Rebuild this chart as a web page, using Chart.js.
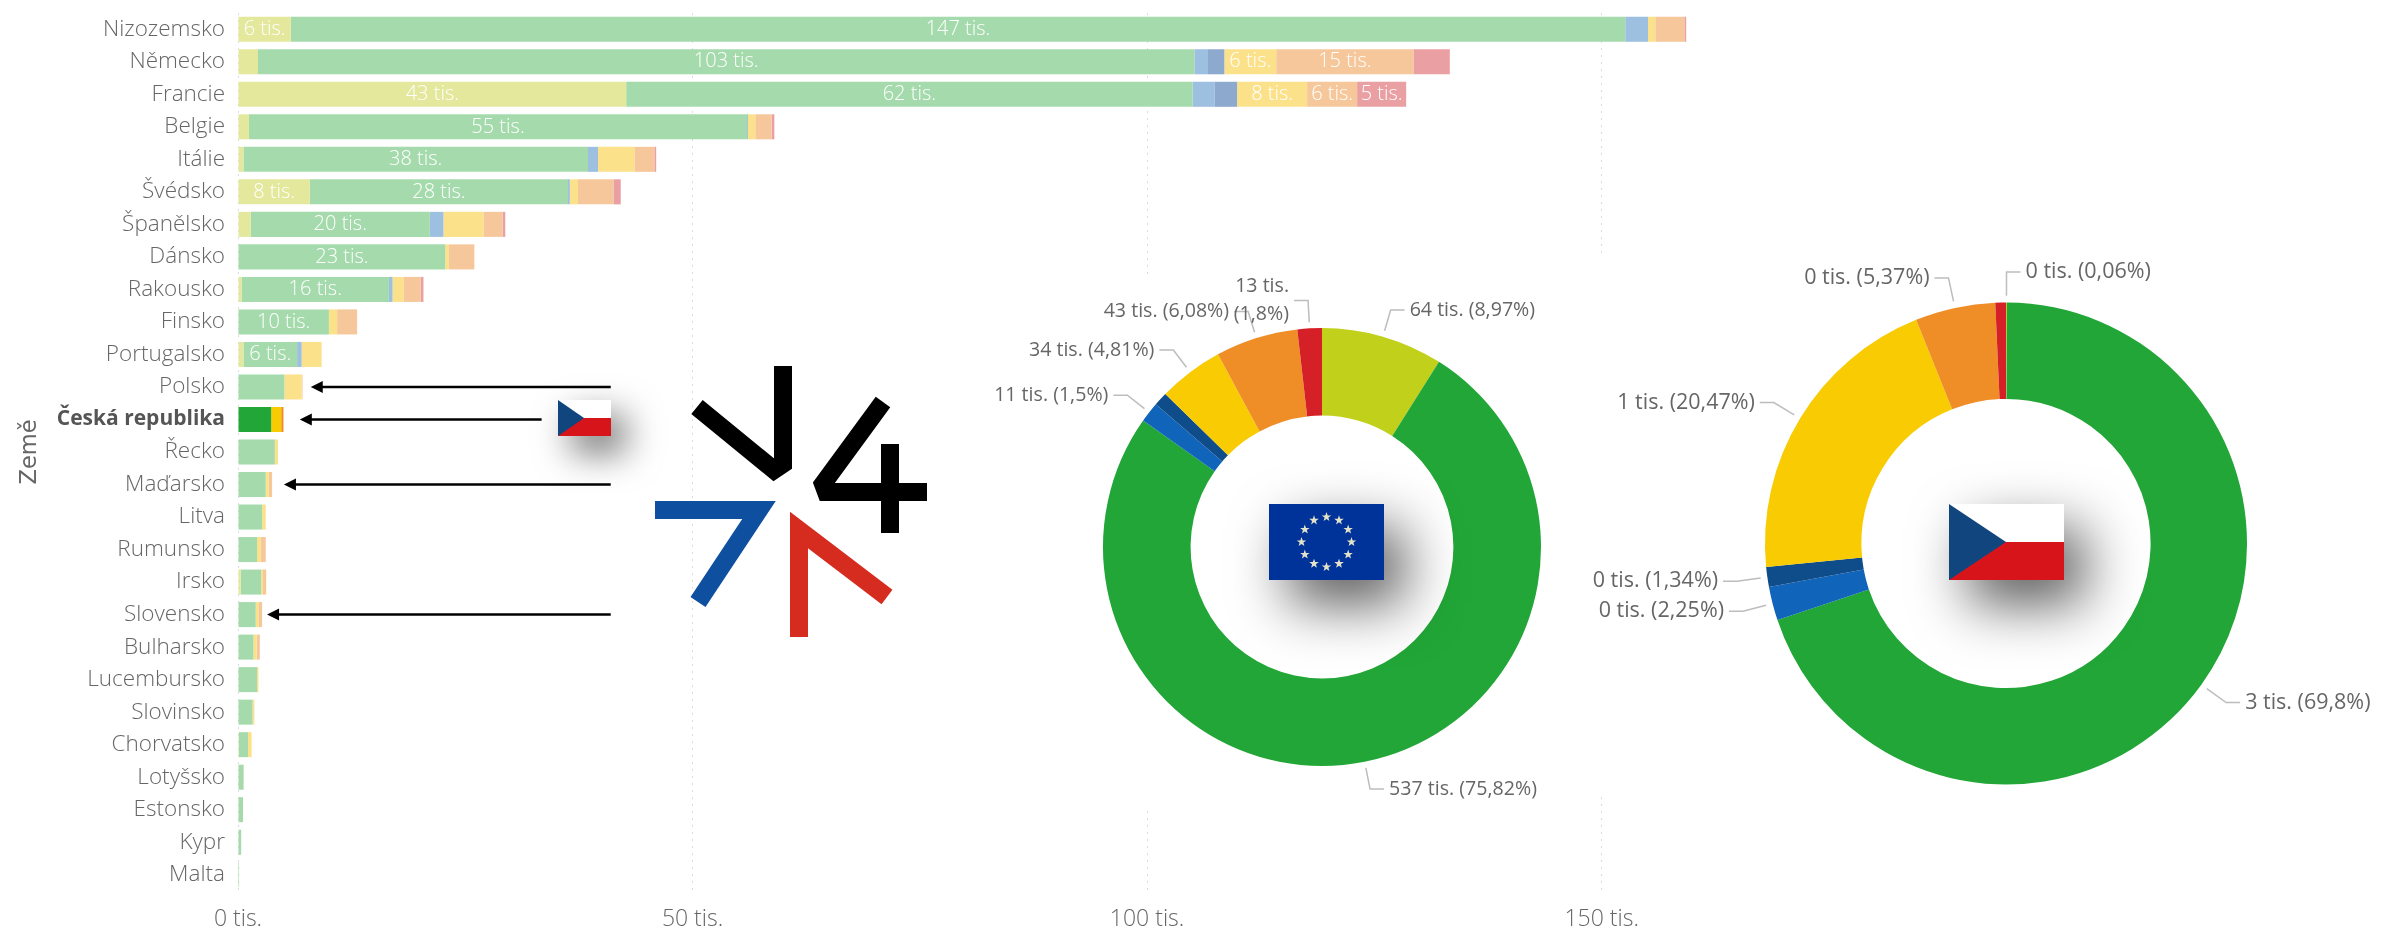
<!DOCTYPE html>
<html><head><meta charset="utf-8">
<script src="https://cdn.jsdelivr.net/npm/chart.js@4"></script>
<style>
html,body{margin:0;padding:0;background:#fff;overflow:hidden}
#stage{position:relative;width:2384px;height:931px;background:#fff}
canvas{position:absolute;display:block}
#c0{left:0;top:0}
#c1{left:970px;top:277px;background:#fff}
#c2{left:1575px;top:256px;background:#fff}
svg.ov{position:absolute;left:0;top:0}
.fl{position:absolute}
</style></head><body>
<div id="stage">
<canvas id="c0" width="2384" height="931"></canvas>
<canvas id="c1" width="630" height="531"></canvas>
<canvas id="c2" width="809" height="539"></canvas>
<svg class="ov" width="2384" height="931" viewBox="0 0 2384 931" fill="none">
  <polyline points="783,366 783,464 774,470 697,407" stroke="#000" stroke-width="18" stroke-linejoin="miter"/>
  <polyline points="883,402 823,484 826,492 927,492" stroke="#000" stroke-width="18"/>
  <line x1="890" y1="444" x2="890" y2="533" stroke="#000" stroke-width="18"/>
  <polyline points="655,510 759,510 698,602" stroke="#0f4fa0" stroke-width="18"/>
  <polyline points="799,637 799,530 887,597" stroke="#d62c20" stroke-width="18"/>
</svg>
<div class="fl" style="left:558px;top:400px;width:53px;height:36px;box-shadow:14px 16px 36px rgba(0,0,0,.6)">
  <svg width="53" height="36" style="display:block"><rect width="53" height="18" fill="#fff"/><rect y="18" width="53" height="18" fill="#d7141a"/><polygon points="0,0 26,18 0,36" fill="#11457e"/></svg></div>
<div class="fl" style="left:1269px;top:504px;width:115px;height:76px;box-shadow:20px 24px 55px rgba(0,0,0,.65)">
  <svg id="eu" width="115" height="76" style="display:block"><rect width="115" height="76" fill="#003399"/></svg></div>
<div class="fl" style="left:1949px;top:504px;width:115px;height:76px;box-shadow:20px 24px 55px rgba(0,0,0,.65)">
  <svg width="115" height="76" style="display:block"><rect width="115" height="38" fill="#fff"/><rect y="38" width="115" height="38" fill="#d7141a"/><polygon points="0,0 57,38 0,76" fill="#11457e"/></svg></div>
</div>
<script>
// ---- data (tisíce) ----
const countries = ['Nizozemsko','Německo','Francie','Belgie','Itálie','Švédsko','Španělsko','Dánsko','Rakousko','Finsko','Portugalsko','Polsko','Česká republika','Řecko','Maďarsko','Litva','Rumunsko','Irsko','Slovensko','Bulharsko','Lucembursko','Slovinsko','Chorvatsko','Lotyšsko','Estonsko','Kypr','Malta'];
const solar    = [5.8,2.2,42.7,1.2,0.6,7.9,1.4,0,0.4,0,0.6,0,0,0,0,0,0,0.3,0,0,0,0,0.1,0,0,0,0];
const wind     = [146.8,103,62.3,54.8,37.9,28.4,19.7,22.8,16.2,10,5.9,5.1,3.65,4.05,3.05,2.65,2.1,2.25,1.95,1.7,2.1,1.6,1,0.6,0.55,0.35,0.12];
const hydro    = [2.5,1.5,2.4,0.1,1.1,0.2,1.5,0,0.4,0,0.5,0,0,0,0,0,0,0,0,0,0,0,0,0,0,0,0];
const pumped   = [0,1.8,2.5,0,0,0,0,0,0,0,0,0,0,0,0,0,0,0,0,0,0,0,0,0,0,0,0];
const biomass  = [0.8,5.7,7.7,0.8,4,0.9,4.4,0.4,1.2,0.9,2.2,1.9,1.1,0.35,0.35,0.4,0.4,0.2,0.35,0.35,0.15,0.2,0.4,0,0,0,0];
const waste    = [3.2,15.1,5.5,1.8,2.2,3.9,2.1,2.8,1.9,2.2,0,0.1,0.25,0,0.35,0,0.55,0.35,0.35,0.35,0,0,0,0.05,0,0,0];
const other    = [0.2,4,5.4,0.3,0.2,0.8,0.3,0,0.3,0,0,0,0,0,0,0,0,0,0,0,0,0,0,0,0,0,0];
const xTicks   = [0,50,100,150];
const highlighted = 'Česká republika';
const arrowCountries = ['Polsko','Česká republika','Maďarsko','Slovensko'];
const arrowTips  = [8.0,6.8,5.05,3.2];
const arrowTails = [41,33.4,41,41];

const euValues = [8.97,75.82,1.5,1.02,4.81,6.08,1.8];
const euLabels = [['64 tis. (8,97%)'],['537 tis. (75,82%)'],['11 tis. (1,5%)'],null,['34 tis. (4,81%)'],['43 tis. (6,08%)'],['13 tis.','(1,8%)']];
const czValues = [0.06,69.8,2.25,1.34,20.47,5.37,0.71];
const czLabels = [['0 tis. (0,06%)'],['3 tis. (69,8%)'],['0 tis. (2,25%)'],['0 tis. (1,34%)'],['1 tis. (20,47%)'],['0 tis. (5,37%)'],null];

// ---- styles ----
const paleColors = ['#e3e89c','#a5dbac','#9dbfe0','#8da9cd','#fce18b','#f6c79a','#ea9fa3'];
const fullColors = ['#c1d01b','#22a637','#1064b9','#0f4c8a','#f8cb02','#ef8e26','#d62027'];
const seriesList = [solar,wind,hydro,pumped,biomass,waste,other];
const FONT = '"Open Sans"';
const GREY = '#666';

// EU stars
(function(){
  const svg=document.getElementById('eu'),cx=57.5,cy=38,R=25,r=5;
  for(let i=0;i<12;i++){
    const a=i*Math.PI/6,x=cx+R*Math.sin(a),y=cy-R*Math.cos(a);let p=[];
    for(let k=0;k<10;k++){const b=k*Math.PI/5,q=k%2?r*0.4:r;p.push((x+q*Math.sin(b)).toFixed(1)+','+(y-q*Math.cos(b)).toFixed(1));}
    const s=document.createElementNS('http://www.w3.org/2000/svg','polygon');
    s.setAttribute('points',p.join(' '));s.setAttribute('fill','#e4e2c8');svg.appendChild(s);
  }
})();

const barLabelPlugin={id:'barLabels',afterDatasetsDraw(chart){
  const c=chart.ctx;c.save();c.font='300 20px '+FONT;c.fillStyle='#fff';c.textAlign='center';c.textBaseline='middle';
  chart.data.datasets.forEach((ds,i)=>{chart.getDatasetMeta(i).data.forEach((el,j)=>{
    const v=ds.data[j];if(v>=5.3)c.fillText(Math.round(v)+' tis.',(el.x+el.base)/2,el.y);
  });});
  c.restore();
}};
const arrowPlugin={id:'arrows',afterDraw(chart){
  const c=chart.ctx,xs=chart.scales.x,ys=chart.scales.y;c.save();c.fillStyle='#000';c.strokeStyle='#000';c.lineWidth=2.5;
  arrowCountries.forEach((n,i)=>{
    const y=ys.getPixelForValue(countries.indexOf(n)),t=xs.getPixelForValue(arrowTips[i]),e=xs.getPixelForValue(arrowTails[i]);
    c.beginPath();c.moveTo(t+8,y);c.lineTo(e,y);c.stroke();
    c.beginPath();c.moveTo(t,y);c.lineTo(t+12,y-6);c.lineTo(t+12,y+6);c.closePath();c.fill();
  });c.restore();
}};
new Chart(document.getElementById('c0'),{
  type:'bar',
  data:{labels:countries,datasets:seriesList.map((d,i)=>({
    data:d,
    backgroundColor:countries.map(n=>n===highlighted?fullColors[i]:paleColors[i]),
    borderWidth:0,barPercentage:0.77,categoryPercentage:1,stack:'s'}))},
  options:{
    indexAxis:'y',responsive:false,animation:false,
    layout:{padding:{top:13,right:646,left:0,bottom:0}},
    plugins:{legend:{display:false},tooltip:{enabled:false}},
    scales:{
      x:{stacked:true,min:0,max:165,
        afterBuildTicks:s=>{s.ticks=xTicks.map(v=>({value:v}));},
        afterFit:s=>{s.height=40;},
        grid:{color:'#dcdcdc',drawTicks:false,lineWidth:1},
        border:{display:false,dash:[2,5]},
        ticks:{padding:15,color:GREY,font:{family:FONT,size:23,weight:300},maxRotation:0,callback:v=>v+' tis.'}},
      y:{stacked:true,
        afterFit:s=>{s.width=238;s.paddingTop=0;s.paddingBottom=0;},
        grid:{display:false,drawTicks:false},border:{display:false},
        title:{display:true,text:'Země',color:GREY,font:{family:'"DejaVu Sans"',size:22.5},padding:{top:17,bottom:0}},
        ticks:{autoSkip:false,padding:13,color:c=>countries[c.index]===highlighted?'#555':GREY,
          font:c=>countries[c.index]===highlighted?{family:FONT,size:21,weight:700}:{family:FONT,size:22.5,weight:300}}}
    }
  },
  plugins:[barLabelPlugin,arrowPlugin]
});

function donutLabels(labels,size){return {id:'donutLabels',afterDatasetsDraw(chart){
  const c=chart.ctx;c.save();
  const lh=28;c.font=size+'px '+FONT;c.textBaseline='middle';
  chart.getDatasetMeta(0).data.forEach((arc,i)=>{
    const L=labels[i];if(!L)return;
    const a=(arc.startAngle+arc.endAngle)/2,R=arc.outerRadius,dx=Math.cos(a),dy=Math.sin(a),s=dx>=0?1:-1;
    const x0=arc.x+dx*R*1.028,y0=arc.y+dy*R*1.028,x1=arc.x+dx*R*1.127,y1=arc.y+dy*R*1.127,x2=x1+s*14;
    c.strokeStyle='#bdbdbd';c.lineWidth=1.5;c.beginPath();c.moveTo(x0,y0);c.lineTo(x1,y1);c.lineTo(x2,y1);c.stroke();
    c.fillStyle=GREY;c.textAlign=s>0?'left':'right';
    L.forEach((t,k)=>c.fillText(t,x2+s*5,y1+(k-(L.length-1)/2)*lh));
  });c.restore();
}};}
function donut(id,values,labels,radius,padding,size){
  new Chart(document.getElementById(id),{
    type:'doughnut',
    data:{labels:values.map((_,i)=>String(i)),datasets:[{data:values,backgroundColor:fullColors,borderWidth:0,radius:radius,cutout:'60%'}]},
    options:{responsive:false,animation:false,layout:{padding:padding},plugins:{legend:{display:false},tooltip:{enabled:false}}},
    plugins:[donutLabels(labels,size)]
  });
}
donut('c1',euValues,euLabels,219,{left:74,top:9,right:0,bottom:0},19.6);
donut('c2',czValues,czLabels,241,{left:53,top:36,right:0,bottom:0},21.5);
</script>
</body></html>
